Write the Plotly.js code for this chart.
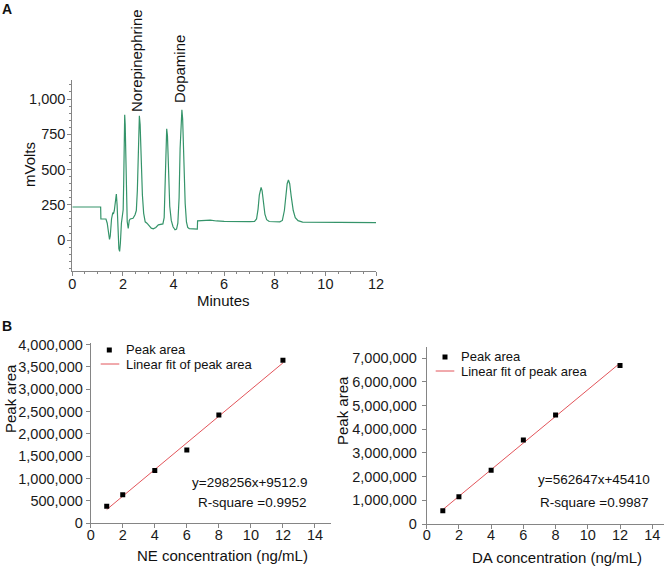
<!DOCTYPE html>
<html>
<head>
<meta charset="utf-8">
<script src="https://cdn.plot.ly/plotly-3.0.1.min.js"></script>
<style>html,body{margin:0;padding:0;background:#fff;}#chart{width:664px;height:567px;}</style>
</head>
<body>
<div id="chart"></div>
<script>
// ---- Panel A: chromatogram ----
const timeMin = [0,1.12,1.13,1.33,1.38,1.43,1.47,1.5,1.55,1.6,1.63,1.66,1.7,1.74,1.77,1.8,1.84,1.87,1.9,1.94,1.98,2.01,2.03,2.05,2.07,2.09,2.11,2.14,2.17,2.21,2.25,2.29,2.4,2.48,2.53,2.57,2.6,2.63,2.65,2.68,2.72,2.77,2.82,2.88,2.95,3.05,3.12,3.2,3.3,3.4,3.5,3.58,3.63,3.67,3.7,3.73,3.76,3.8,3.85,3.91,3.98,4.06,4.12,4.17,4.22,4.26,4.3,4.33,4.36,4.41,4.46,4.51,4.56,4.62,4.75,4.94,4.95,5.2,5.45,5.7,6.0,7.0,7.2,7.28,7.34,7.39,7.46,7.5,7.55,7.61,7.68,7.78,8.2,8.3,8.38,8.44,8.49,8.54,8.59,8.65,8.73,8.81,8.92,9.1,10,11,12];
const mVolts  = [235,235,150,150,120,40,5,30,150,195,190,210,280,327,250,80,-60,-80,-20,120,200,215,400,750,888,820,550,280,130,83,140,150,155,180,210,350,600,830,881,820,580,320,190,130,120,100,85,80,90,108,115,115,160,400,680,789,740,480,240,140,95,74,78,120,300,650,880,924,860,550,260,130,90,82,80,78,137,137,142,136,133,131,133,150,220,320,374,350,270,185,145,132,130,140,210,320,400,426,400,310,210,160,138,128,126,125,124];
const chromXTicks = [0,2,4,6,8,10,12];
const chromYTicks = [0,250,500,750,1000];

// ---- Panel B: calibration curves ----
const concTicks = [0,2,4,6,8,10,12,14];
const neConc = [1,2,4,6,8,12];
const neArea = [380000,640000,1180000,1640000,2420000,3650000];
const neFitX = [1,12];
const neFitY = [307769,3588585];
const daConc = [1,2,4,6,8,12];
const daArea = [560000,1150000,2270000,3550000,4600000,6700000];
const daFitX = [1,12];
const daFitY = [608057,6797174];
const neEquation = "y=298256x+9512.9";
const neRsq = "R-square =0.9952";
const daEquation = "y=562647x+45410";
const daRsq = "R-square =0.9987";

const W = 664, H = 567;
const px = v => v / W;
const py = v => 1 - v / H;
const FONT = "Liberation Sans, Arial, sans-serif";
const AX = '#858585';
const RED = '#e2545a';

function axisBase(extra) {
  return Object.assign({
    showline: true, linecolor: AX, linewidth: 1,
    ticks: 'outside', tickcolor: AX, ticklen: 4, tickwidth: 1,
    showgrid: false, zeroline: false, fixedrange: true,
    tickfont: {family: FONT, size: 14.5, color: '#1a1a1a'}
  }, extra);
}

const traces = [
  {x: timeMin, y: mVolts, xaxis: 'x', yaxis: 'y', mode: 'lines',
   line: {color: '#35946a', width: 1.2}, showlegend: false},
  {x: neFitX, y: neFitY, xaxis: 'x2', yaxis: 'y2', mode: 'lines',
   line: {color: RED, width: 1}, showlegend: false},
  {x: neConc, y: neArea, xaxis: 'x2', yaxis: 'y2', mode: 'markers',
   marker: {symbol: 'square', size: 5, color: '#000'}, showlegend: false},
  {x: daFitX, y: daFitY, xaxis: 'x3', yaxis: 'y3', mode: 'lines',
   line: {color: RED, width: 1}, showlegend: false},
  {x: daConc, y: daArea, xaxis: 'x3', yaxis: 'y3', mode: 'markers',
   marker: {symbol: 'square', size: 5, color: '#000'}, showlegend: false}
];

function ann(text, x, y, size, extra) {
  return Object.assign({text: text, x: px(x), y: py(y), xref: 'paper', yref: 'paper',
    showarrow: false, xanchor: 'center', yanchor: 'middle',
    font: {family: FONT, size: size, color: '#111'}}, extra || {});
}

const annotations = [
  ann('<b>A</b>', 7, 9, 14),
  ann('<b>B</b>', 7, 326, 14),
  ann('Norepinephrine', 137, 61, 15, {textangle: -90}),
  ann('Dopamine', 180, 69, 15, {textangle: -90}),
  ann('mVolts', 30, 165, 15, {textangle: -90}),
  ann('Minutes', 224, 300, 15),
  ann('Peak area', 10, 399, 15, {textangle: -90}),
  ann('Peak area', 342, 411, 15, {textangle: -90}),
  ann('NE concentration (ng/mL)', 222, 555, 15),
  ann('DA concentration (ng/mL)', 557, 557, 15),
  ann(neEquation, 250, 482, 13.5),
  ann(neRsq, 252, 502, 13.5),
  ann(daEquation, 594, 479, 13.5),
  ann(daRsq, 594, 502, 13.5),
  ann('Peak area', 124, 349.5, 13, {xanchor: 'left'}),
  ann('Linear fit of peak area', 124, 364.5, 13, {xanchor: 'left'}),
  ann('Peak area', 459, 356.5, 13, {xanchor: 'left'}),
  ann('Linear fit of peak area', 459, 371.5, 13, {xanchor: 'left'})
];

// legend swatches (layout decoration, not data)
const shapes = [
  {type: 'rect', xref: 'paper', yref: 'paper', x0: px(106.8), x1: px(111.8), y0: py(347.5), y1: py(352.5),
   fillcolor: '#000', line: {width: 0}},
  {type: 'line', xref: 'paper', yref: 'paper', x0: px(100.7), x1: px(119.3), y0: py(364), y1: py(364),
   line: {color: RED, width: 1}},
  {type: 'rect', xref: 'paper', yref: 'paper', x0: px(442.5), x1: px(447.5), y0: py(354.5), y1: py(359.5),
   fillcolor: '#000', line: {width: 0}},
  {type: 'line', xref: 'paper', yref: 'paper', x0: px(435.7), x1: px(454.3), y0: py(371), y1: py(371),
   line: {color: RED, width: 1}}
];

const layout = {
  width: W, height: H,
  margin: {l: 0, r: 0, t: 0, b: 0},
  paper_bgcolor: '#fff', plot_bgcolor: 'rgba(0,0,0,0)',
  showlegend: false,
  font: {family: FONT, color: '#111'},
  xaxis: axisBase({domain: [px(72.3), px(376)], range: [0, 12], anchor: 'y',
    tickvals: chromXTicks, ticklabelstandoff: -4,
    minor: {ticks: 'outside', dtick: 0.5, ticklen: 2, tickcolor: AX}}),
  yaxis: axisBase({domain: [py(270.5), py(80)], range: [-215, 1135], anchor: 'x',
    tickvals: chromYTicks, tickformat: ',d', ticklabelstandoff: -1,
    minor: {ticks: 'outside', dtick: 50, ticklen: 2, tickcolor: AX}}),
  xaxis2: axisBase({domain: [px(90.7), px(331)], range: [0, 15], anchor: 'y2',
    tickvals: concTicks, ticklabelstandoff: -6}),
  yaxis2: axisBase({domain: [py(523.3), py(342.7)], range: [0, 4040000], anchor: 'x2',
    dtick: 500000, tickformat: ',d'}),
  xaxis3: axisBase({domain: [px(426.7), 1], range: [0, 14.73], anchor: 'y3',
    tickvals: concTicks, ticklabelstandoff: -6}),
  yaxis3: axisBase({domain: [py(524), py(346.7)], range: [0, 7490000], anchor: 'x3',
    dtick: 1000000, tickformat: ',d', ticklabelstandoff: 2}),
  annotations: annotations,
  shapes: shapes
};

Plotly.newPlot('chart', traces, layout, {displayModeBar: false, staticPlot: true});
</script>
</body>
</html>
